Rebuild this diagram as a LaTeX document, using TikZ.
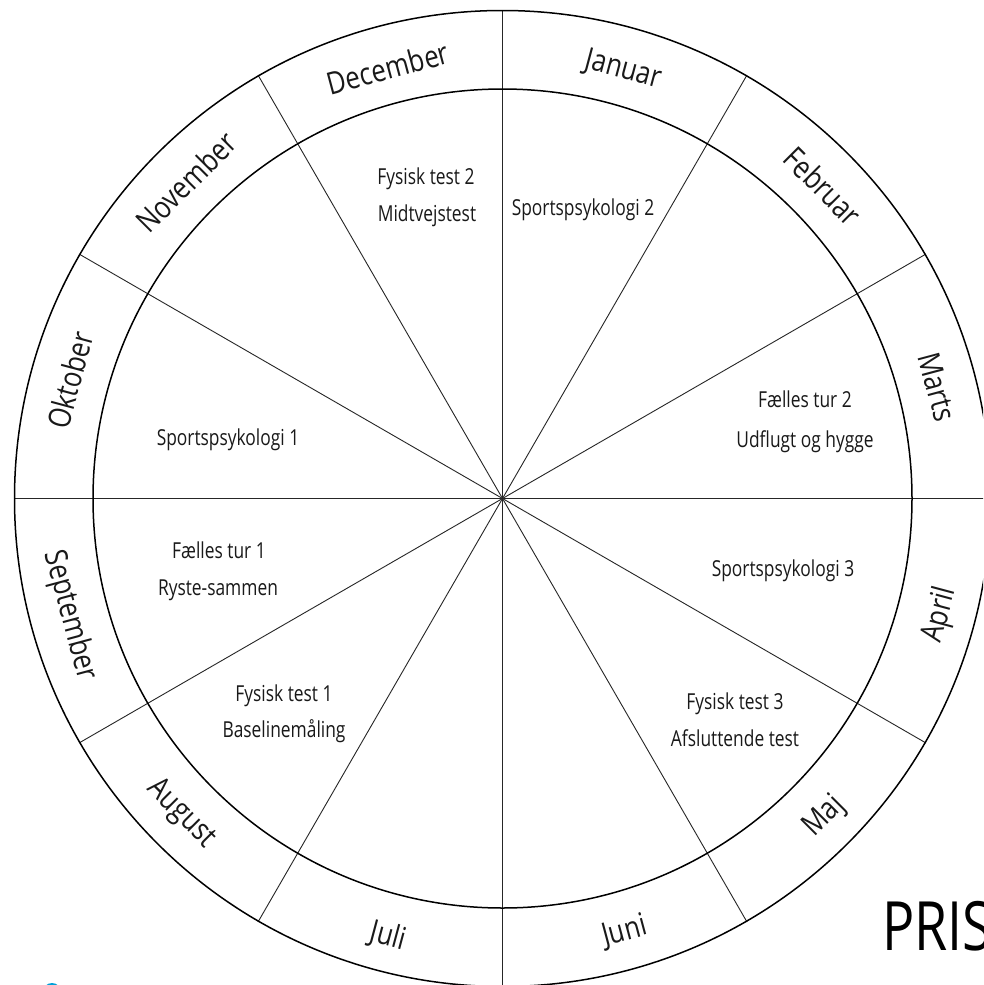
\documentclass[tikz,border=0pt]{standalone}
\usepackage{fontspec}
\usetikzlibrary{calc}
\setmainfont[FakeStretch=0.79]{Open Sans}
\newfontfamily\monthfont[FakeStretch=0.83]{Open Sans}
\definecolor{logoblue}{RGB}{0,160,216}
\tikzset{
  ring/.style={line width=1.5pt,draw=black},
  spoke/.style={line width=0.9pt,draw=black!85},
  month/.style={font=\monthfont\fontsize{31}{34}\selectfont,inner sep=0pt,text=black!90,text height=23pt,text depth=0pt},
  event/.style={font=\fontsize{22}{24}\selectfont,inner sep=0pt,text=black!90,text height=16pt,text depth=0pt},
}
\begin{document}
\begin{tikzpicture}[x=1pt,y=-1pt]
\useasboundingbox (0,0) rectangle (983,985);
\clip (0,0) rectangle (983,985);
\fill[white] (0,0) rectangle (983,985);
\coordinate (c) at (502.5,498.5);
\foreach \i in {0,30,...,330}{
  \coordinate (e\i) at ($(c)+(\i:489pt)$);
  \draw[spoke] (c) -- (e\i);
}
\draw[ring] (c) circle[radius=488pt];
\draw[ring] (c) circle[radius=409.5pt];
\node[month,rotate=15] (dec) at (388,68) {December};
\node[month,rotate=-15] (jan) at (624,67) {Januar};
\node[month,rotate=-45] (feb) at (823,186) {Februar};
\node[month,rotate=-75] (mar) at (938,387) {Marts};
\node[month,rotate=75] (apr) at (937,614) {April};
\node[month,rotate=45] (maj) at (822,814) {Maj};
\node[month,rotate=15] (jun) at (624,929) {Juni};
\node[month,rotate=-15] (jul) at (389,934) {Juli};
\node[month,rotate=-45] (aug) at (184,811) {August};
\node[month,rotate=-75] (sep) at (73,615) {September};
\node[month,rotate=75] (okt) at (70,380) {Oktober};
\node[month,rotate=45] (nov) at (186,182) {November};
\node[event] (a1) at (426,176) {Fysisk test 2};
\node[event] (a2) at (427,213) {Midtvejstest};
\node[event] (b1) at (583,207) {Sportspsykologi 2};
\node[event] (c1) at (805,399) {Fælles tur 2};
\node[event] (c2) at (805,439) {Udflugt og hygge};
\node[event] (d1) at (228,437) {Sportspsykologi 1};
\node[event] (e1) at (219,550) {Fælles tur 1};
\node[event] (e2) at (218,587) {Ryste-sammen};
\node[event] (f1) at (783,568) {Sportspsykologi 3};
\node[event] (g1) at (284,693) {Fysisk test 1};
\node[event] (g2) at (284,729) {Baselinemåling};
\node[event] (h1) at (735,701) {Fysisk test 3};
\node[event] (h2) at (735,738) {Afsluttende test};
\node[anchor=base west,inner sep=0pt,font=\fontsize{68}{70}\selectfont] (pris) at (882,950) {PRIS};
\fill[logoblue] (52,992) circle[radius=9pt];
\end{tikzpicture}
\end{document}
